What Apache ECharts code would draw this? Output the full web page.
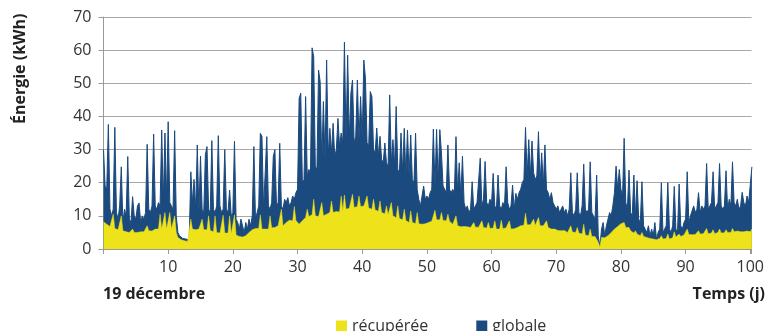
<!DOCTYPE html>
<html>
<head>
<meta charset="utf-8">
<script src="https://cdn.jsdelivr.net/npm/echarts@6/dist/echarts.min.js"></script>
<style>html,body{margin:0;padding:0;background:#fff}#c{width:767px;height:331px}</style>
</head>
<body>
<div id="c"></div>
<script>
// Sampling: one value every 0.25 day, starting at day 0 (19 décembre)
const pasTemps = 0.25;
const xTicks = [10, 20, 30, 40, 50, 60, 70, 80, 90, 100];
const yTicks = [0, 10, 20, 30, 40, 50, 60, 70];
const seriesNames = ['récupérée', 'globale'];

// Énergie globale (kWh), 4 samples per day
const globale = [
  30, 19, 18, 37.6,   12, 10, 12, 36.7,   11, 9, 13, 24.8,   8, 12, 10, 27.9,
  9, 8, 15.8, 10,     9, 13, 13.9, 8,     10, 9, 11, 31.6,   12, 11, 13, 34.7,
  13, 12, 14, 13,     35.9, 14, 35, 15,   38.4, 14, 13, 12,  35.7, 10, 5, 4,
  3.5, 3.2, 3, 3,     3, 2.8, 23.3, 14,   21, 12, 31.4, 11,  28, 12, 11, 28.4,
  30.9, 12, 11, 32.7, 12, 11, 13, 34.2,   13, 11, 12, 30,    12, 11, 17.8, 10,
  11, 32.5, 9, 8,     6, 9, 7, 5,         8, 6, 9, 7,        10, 30.9, 9, 11,
  13, 34.9, 34, 12,   12, 33.9, 13, 12,   14, 27.9, 30, 13,  14, 31.9, 13, 12,
  15, 14, 15.5, 13,   14, 16, 15, 17,     18, 45.5, 47, 20,  21, 46, 22, 24,
  23, 60.7, 58, 25,   24, 54, 50.5, 26,   44.5, 27, 57, 28,  36.4, 29, 37.9, 28,
  30, 39.4, 31, 35,   32, 62.4, 33, 58.5, 33, 47, 51, 32,    34, 51, 33, 46,
  33, 57, 51.5, 32,   31, 47.5, 46, 30,   29, 36.5, 28, 34,  27, 26, 32, 26,
  25, 46.5, 26, 33,   25, 43, 24, 23,     35, 23, 36.4, 22,  35.9, 22, 34.4, 21,
  20, 35, 18, 15,     13, 16, 19, 15,     16, 15, 17, 18,    36.2, 19, 36.1, 20,
  36, 29, 19, 18,     17, 31.4, 18, 17,   18, 17, 33.9, 17,  26, 16, 28, 14,
  12, 13, 11, 12,     20.3, 12, 13, 14,   14, 27.4, 13, 15,  26.4, 14, 13, 15,
  14, 22.8, 13, 12,   22.3, 13, 12, 14,   13, 24.8, 14, 12,  13, 19.3, 12, 16.8,
  15, 17, 18, 20,     21, 36.7, 22, 33,   22, 32.6, 23, 21,  22, 35.4, 20, 29,
  19, 31.4, 18, 17,   15, 17, 14, 13,     12, 13, 11, 12,    13, 11, 12, 10,
  12, 23, 11, 10,     12, 23, 11, 10,     13, 25.6, 12, 11,  12, 26.3, 11, 10,
  9, 22.3, 4, 0.7,    6, 8, 4, 7,         9, 11, 10, 13,     17, 25, 18, 24,
  18, 16, 33.4, 14,   12, 23.8, 11, 10,   22.3, 10, 20.6, 9, 8, 20.3, 7, 6,
  5, 7, 4, 6,         4, 8, 3, 5,         6, 20, 5, 6,       7, 20, 6, 5,
  7, 18.9, 6, 5,      19.6, 7, 6, 8,      9, 23.3, 8, 10,    10, 13, 11, 12,
  17, 11, 13, 12,     13, 25.8, 12, 13,   14, 23.3, 12, 13,  14, 25.8, 13, 12,
  13, 23.6, 12, 15,   13, 26.3, 14, 13,   15, 12, 13, 17.1,  14, 13, 16, 14,
  14, 24.8
];

// Énergie récupérée (kWh), 4 samples per day
const recuperee = [
  8.2, 7.8, 7.5, 7,   6.8, 6.5, 10.5, 6.2, 6, 5.8, 6, 10,    5.5, 5.4, 5.2, 5,
  5, 4.8, 6, 5,       5.2, 5, 5.4, 5.2,   5, 5.2, 5, 7,      5.5, 5.6, 5.4, 6,
  6, 5.8, 6, 10.5,    6, 5.8, 11, 6,      6.2, 11, 6, 5.8,   10, 5, 3.5, 3,
  2.8, 2.7, 2.5, 2.4, 2.3, 2.2, 9, 6,     6, 5.8, 6.2, 6,    6, 9, 5.8, 6,
  5.8, 10, 5.6, 5.4,  5.2, 10, 5, 4.8,    4.8, 5, 10.2, 4.8, 5, 4.8, 10, 4.6,
  4.5, 10.3, 4.2, 4,  3.8, 4, 3.6, 3.8,   4, 4.2, 5, 5.5,    5.8, 6, 6.2, 6,
  6.2, 10.3, 6, 6.2,  6, 6.2, 6, 10,      6.4, 6.6, 6.5, 6.8, 7, 6.8, 12, 7,
  7.5, 8, 8.5, 8.7,   8.7, 8.5, 12.8, 8.6, 8, 7.5, 8, 8.5,   9, 9.5, 12, 9.8,
  10, 10.3, 15, 10,   10, 9.8, 10.2, 14,  10, 10.2, 10.5, 10.8, 11, 14.5, 11, 11.2,
  11.3, 11.5, 11.2, 16, 11.5, 16.3, 12, 12.2, 12.3, 12.2, 16.5, 12.5, 12.6, 12.8, 16, 12.8,
  12.8, 13, 12.6, 16, 12.4, 12.2, 12, 15, 11.8, 11.6, 11.4, 14.5, 11, 10.8, 10.6, 13,
  10.3, 10.2, 14, 10, 9.6, 9.4, 13, 9.2,  9, 8.8, 12, 8.6,   8.2, 8, 11.5, 8,
  7.8, 7.7, 11, 7.6,  7.6, 7.5, 7.8, 7.6, 7.8, 8, 8.2, 8.4,  8.6, 11.7, 8.8, 8.6,
  8.8, 11, 8.6, 8.5,  8.5, 10.5, 8.4, 8,  7.5, 7.2, 10, 7,   6.8, 6.7, 6.6, 6.8,
  6.5, 6.7, 6.6, 6.5, 6.7, 8, 6.6, 6.5,   6.6, 6.8, 8.5, 6.5, 6.4, 6.3, 8, 6.2,
  6.2, 6.3, 8.5, 6,   6.2, 6, 8.7, 6.1,   6.2, 6.4, 6.2, 8.5, 6, 6.2, 6.1, 6.3,
  6.5, 6.8, 7, 7.2,   7.2, 10.8, 7.3, 7.2, 7.3, 7.2, 9, 7.1, 7.2, 9.5, 7, 7.1,
  7, 6.8, 8.5, 6.5,   6.2, 6, 5.8, 6,     5.8, 5.6, 5.7, 5.5, 5.4, 5.6, 5.2, 5,
  5.2, 7, 5.1, 5,     5, 6.5, 4.8, 4.6,   4.5, 7.5, 4.2, 4,  4, 6, 3.8, 4,
  3.8, 4, 2, 0.5,     3.5, 3, 3.4, 3.6,   4, 4.5, 5, 5.5,    6, 6.5, 6.8, 7.2,
  7.6, 7.2, 8, 6.5,   6, 6.5, 5.5, 5,     4.8, 5.5, 4.5, 4.2, 4, 5, 3.8, 3.6,
  3.5, 3.4, 3.2, 3.4, 3, 3.2, 2.8, 3,     3.2, 4, 3, 3.3,    3.2, 4.5, 3, 3.5,
  3.4, 5.2, 3.6, 3.5, 4.5, 3.8, 4, 4.2,   4.2, 6, 4.4, 4.5,  4.3, 4.6, 4.4, 4.6,
  5.5, 4.5, 4.8, 4.6, 4.8, 6.2, 4.6, 5,   4.8, 5.8, 4.6, 4.7, 5, 6, 4.8, 5,
  4.9, 5.8, 5, 5.2,   5, 6.2, 5.2, 5,     5.4, 5, 5.2, 5.8,  5.2, 5, 5.4, 5.2,
  5.2, 6
];

const toPoints = arr => arr.map((v, i) => [i * pasTemps, v]);

const chart = echarts.init(document.getElementById('c'), null, {renderer: 'canvas'});
const font = '"Open Sans", "Noto Sans", sans-serif';
const blue = '#1b4a7e';
const yellow = '#eee31a';

chart.setOption({
  animation: false,
  textStyle: {fontFamily: font},
  grid: {left: 103.5, right: 9, top: 17, bottom: 82, containLabel: false},
  legend: {
    data: [
      {name: seriesNames[0], icon: 'rect'},
      {name: seriesNames[1], icon: 'rect'}
    ],
    left: 331, top: 313,
    itemWidth: 11, itemHeight: 11, itemGap: 48,
    textStyle: {fontFamily: font, fontSize: 16, color: '#333'}
  },
  xAxis: {
    type: 'value', min: 0, max: 100.2, interval: 10,
    axisLine: {show: true, lineStyle: {color: '#999', width: 1}},
    axisTick: {show: true, length: 5, lineStyle: {color: '#999'}},
    splitLine: {show: false},
    axisLabel: {
      fontSize: 16, color: '#333', margin: 10, fontFamily: font,
      formatter: v => xTicks.includes(v) ? String(v) : ''
    }
  },
  yAxis: {
    type: 'value', min: 0, max: 70, interval: 10,
    axisLine: {show: true, lineStyle: {color: '#999', width: 1}},
    axisTick: {show: true, length: 5, lineStyle: {color: '#999'}},
    splitLine: {show: true, lineStyle: {color: '#a8a8a8', width: 1.2}},
    axisLabel: {
      fontSize: 16, color: '#333', margin: 12, fontFamily: font,
      formatter: v => yTicks.includes(v) ? String(v) : ''
    }
  },
  graphic: [
    {type: 'text', left: 103, top: 286, style: {text: '19 décembre', font: 'bold 16px ' + font, fill: '#222'}},
    {type: 'text', right: 2, top: 286, style: {text: 'Temps (j)', font: 'bold 16px ' + font, fill: '#222'}},
    {type: 'text', x: 12, y: 124, rotation: Math.PI / 2,
     style: {text: 'Énergie (kWh)', font: 'bold 16px ' + font, fill: '#222', align: 'left', verticalAlign: 'top'}}
  ],
  series: [
    {
      name: seriesNames[1], type: 'line', data: toPoints(globale),
      symbol: 'none', smooth: false, z: 2,
      lineStyle: {color: blue, width: 1}, itemStyle: {color: blue},
      areaStyle: {color: blue, opacity: 1}
    },
    {
      name: seriesNames[0], type: 'line', data: toPoints(recuperee),
      symbol: 'none', smooth: false, z: 3,
      lineStyle: {color: yellow, width: 0.5}, itemStyle: {color: yellow},
      areaStyle: {color: yellow, opacity: 1}
    }
  ]
});
</script>
</body>
</html>
